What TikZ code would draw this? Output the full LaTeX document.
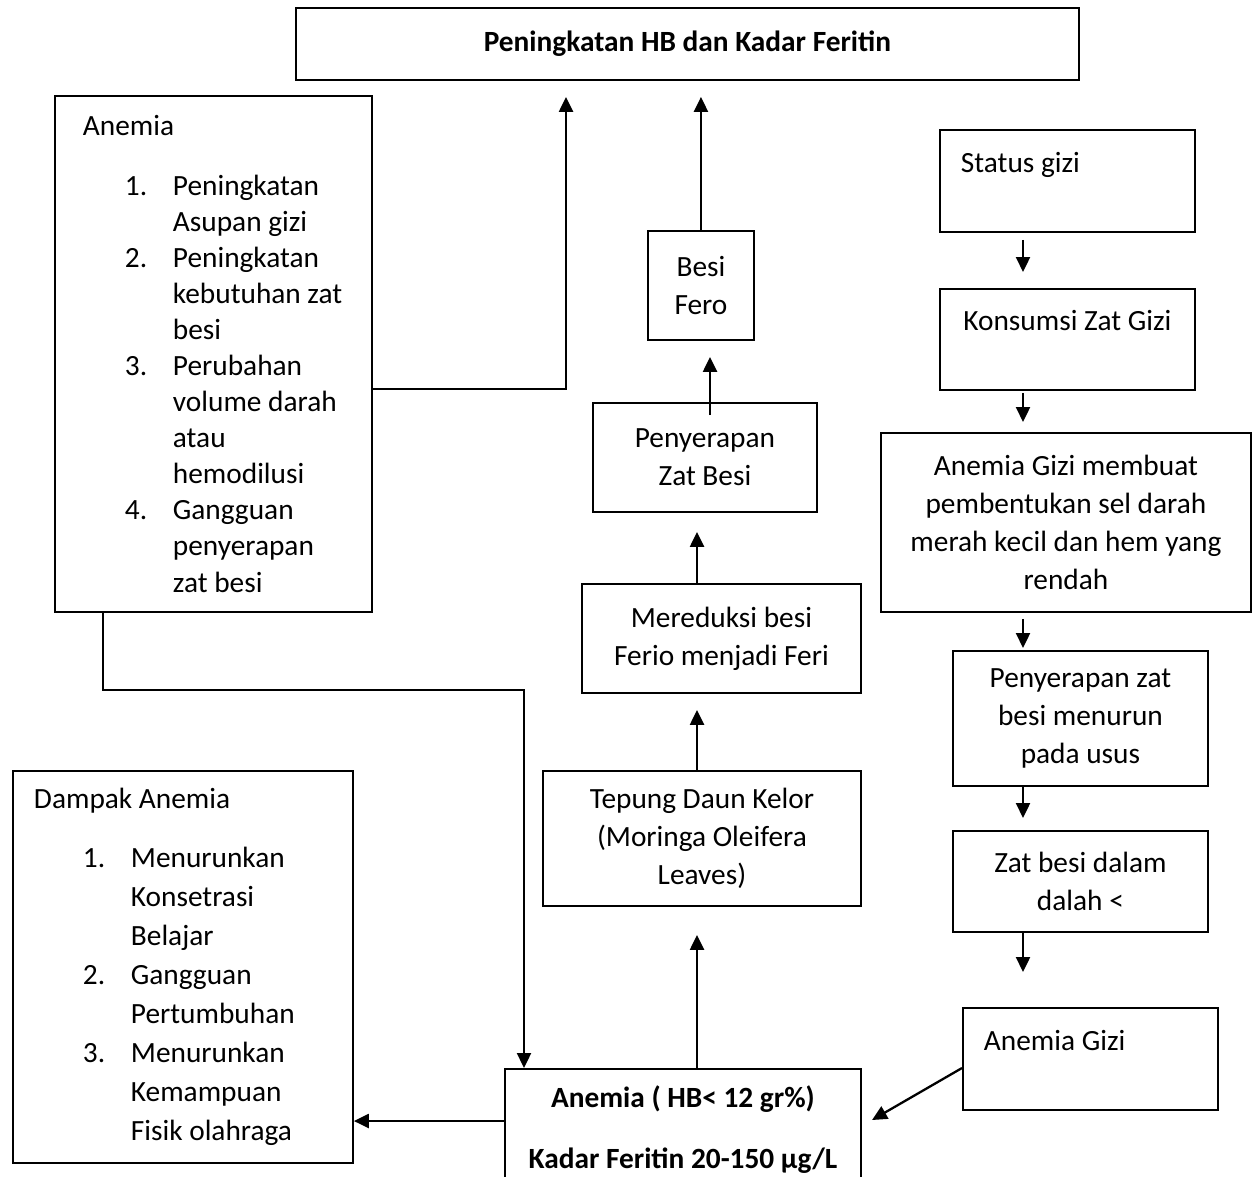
\documentclass[tikz,border=0pt]{standalone}
\usepackage{fontspec}
\setmainfont{Carlito}
\usetikzlibrary{arrows.meta}
\tikzstyle{arrow} = [line width=1.3pt,->,>={Triangle[length=0.3cm,width=0.28cm]}]
\newlength{\listind}
\newcommand{\lnum}[2]{\hspace*{\listind}\makebox[0.96cm][l]{#1}\mbox{#2}}
\newcommand{\lcont}[1]{\hspace*{\dimexpr\listind+0.96cm\relax}\mbox{#1}}

\begin{document}
\begin{tikzpicture}[x=0.02cm, y=-0.02cm, font=\fontsize{16.7}{21.6}\selectfont]
   \tikzset{block/.style={draw, line width=1.1pt, rectangle, anchor=north west, align=center, inner sep=0pt},
   listbox/.style={block, align=left, inner ysep=0pt},
   }
 \useasboundingbox (0,0) rectangle (1256,1176);
 \coordinate (midcol) at (697,0);
 \coordinate (rcol) at (1023,0);

 \node [block, minimum width=15.66cm, minimum height=1.44cm] (goal) at (295,7) {\textbf{Peningkatan HB dan Kadar Feritin}};

 \node [listbox, minimum width=6.34cm, minimum height=10.32cm, inner xsep=0.56cm, text width=5.22cm, font=\fontsize{16.7}{20.5}\selectfont] (anemia) at (54,95) {\spaceskip=0pt\xspaceskip=0pt\setlength{\listind}{0.84cm}Anemia\\[0.48cm]
   \lnum{1.}{Peningkatan}\\ \lcont{Asupan gizi}\\
   \lnum{2.}{Peningkatan}\\ \lcont{kebutuhan zat}\\ \lcont{besi}\\
   \lnum{3.}{Perubahan}\\ \lcont{volume darah}\\ \lcont{atau}\\ \lcont{hemodilusi}\\
   \lnum{4.}{Gangguan}\\ \lcont{penyerapan}\\ \lcont{zat besi}};

 \node [listbox, minimum width=6.8cm, minimum height=7.84cm, inner xsep=0.42cm, text width=5.96cm, font=\fontsize{16.7}{22.2}\selectfont] (dampak) at (12,770) {\spaceskip=0pt\xspaceskip=0pt\setlength{\listind}{0.98cm}Dampak Anemia\\[0.4cm]
   \lnum{1.}{Menurunkan}\\ \lcont{Konsetrasi}\\ \lcont{Belajar}\\
   \lnum{2.}{Gangguan}\\ \lcont{Pertumbuhan}\\
   \lnum{3.}{Menurunkan}\\ \lcont{Kemampuan}\\ \lcont{Fisik olahraga}};

 % tengah
 \node [block, minimum width=2.12cm, minimum height=2.18cm] (fero) at (647,230) {Besi\\Fero};
 \node [block, minimum width=4.48cm, minimum height=2.18cm] (serap) at (592,402) {Penyerapan\\Zat Besi};
 \node [block, minimum width=5.58cm, minimum height=2.18cm] (reduksi) at (581,583) {Mereduksi besi\\Ferio menjadi Feri};
 \node [block, minimum width=6.36cm, minimum height=2.7cm] (kelor) at (542,770) {Tepung Daun Kelor\\(Moringa Oleifera\\Leaves)};
 \node [block, minimum width=7.12cm, minimum height=2.42cm] (anemiahb) at (504,1068) {\textbf{Anemia ( HB< 12 gr\%)}\\[13pt]\textbf{Kadar Feritin 20-150 µg/L}};

 % kanan
 \node [listbox, minimum width=5.1cm, minimum height=2.04cm, inner xsep=0.42cm, text width=4.26cm] (status) at (939,129) {\spaceskip=0pt Status gizi\\ \mbox{}};
 \node [block, minimum width=5.1cm, minimum height=2.02cm] (konsumsi) at (939,288) {Konsumsi Zat Gizi\\ \mbox{}};
 \node [block, minimum width=7.4cm, minimum height=3.58cm] (agm) at (880,432) {Anemia Gizi membuat\\pembentukan sel darah\\merah kecil dan hem yang\\rendah};
 \node [block, minimum width=5.1cm, minimum height=2.7cm] (menurun) at (952,650) {Penyerapan zat\\besi menurun\\pada usus};
 \node [block, minimum width=5.1cm, minimum height=2.02cm] (dalah) at (952,830) {Zat besi dalam\\dalah <};
 \node [listbox, minimum width=5.1cm, minimum height=2.04cm, inner xsep=0.42cm, text width=4.26cm] (agizi) at (962,1007) {\spaceskip=0pt Anemia Gizi\\ \mbox{}};
 \coordinate (agtip) at (872,1120);

 \draw [arrow, shorten >=0.32cm] (anemia.east |- 0,389) -| (goal.south -| 566,0);
 \draw [arrow, shorten >=0.32cm] (fero.north) -- (fero.north |- goal.south);
 \draw [arrow, shorten <=-0.26cm, shorten >=0.32cm] (serap.north -| 710,0) -- (fero.south -| 710,0);
 \draw [arrow, shorten >=0.38cm] (reduksi.north -| midcol) -- (serap.south -| midcol);
 \draw [arrow, shorten >=0.32cm] (kelor.north -| midcol) -- (reduksi.south -| midcol);
 \draw [arrow, shorten >=0.56cm] (anemiahb.north -| midcol) -- (kelor.south -| midcol);
 \draw [arrow] (anemia.south -| 103,0) -- ++(0,77) -| (anemiahb.north -| 524,0);
 \draw [arrow] (anemiahb.west |- 0,1121) -- (dampak.east |- 0,1121);
 \draw [arrow] (agizi.west |- 0,1068) -- (agtip);

 \draw [arrow, shorten <=0.14cm, shorten >=0.32cm] (status.south -| rcol) -- (konsumsi.north -| rcol);
 \draw [arrow, shorten <=0.04cm, shorten >=0.2cm] (konsumsi.south -| rcol) -- (agm.north -| rcol);
 \draw [arrow, shorten <=0.12cm, shorten >=0.04cm] (agm.south -| rcol) -- (menurun.north -| rcol);
 \draw [arrow, shorten >=0.24cm] (menurun.south -| rcol) -- (dalah.north -| rcol);
 \draw [arrow, shorten >=0.7cm] (dalah.south -| rcol) -- (agizi.north -| rcol);
\end{tikzpicture}
\end{document}
